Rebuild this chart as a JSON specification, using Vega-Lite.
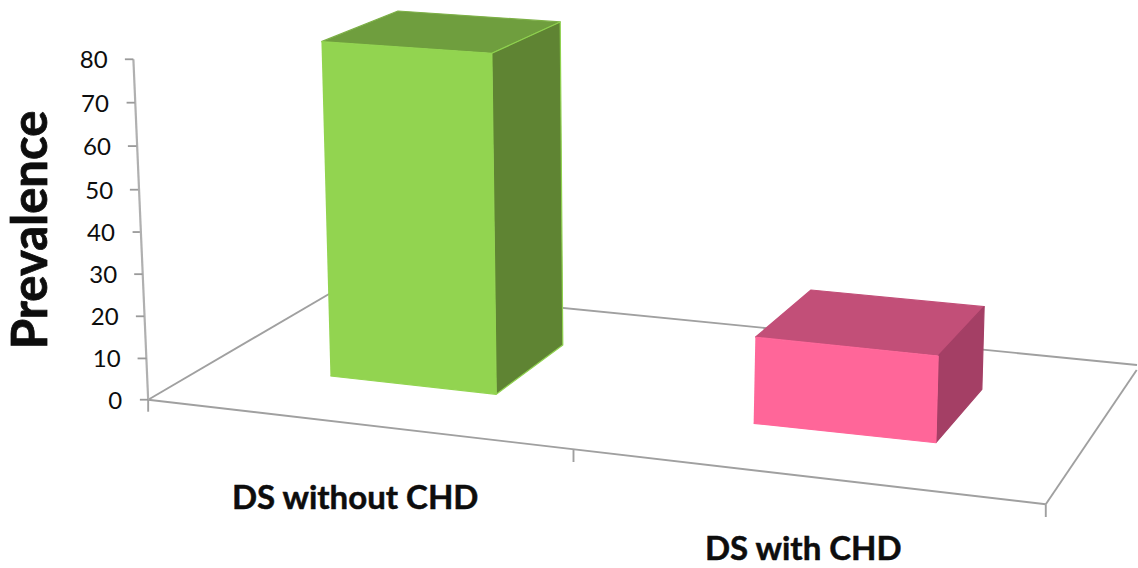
{
  "$schema": "https://vega.github.io/schema/vega-lite/v6.json",
  "width": 1138,
  "height": 568,
  "padding": 0,
  "autosize": {"type": "fit", "contains": "padding"},
  "background": "white",
  "view": {"stroke": null},
  "datasets": {
    "faces": [
      {"category": "DS without CHD", "face": "without top", "order": 0, "x": 321.7, "y": 84.14},
      {"category": "DS without CHD", "face": "without top", "order": 1, "x": 398.3, "y": 91.35},
      {"category": "DS without CHD", "face": "without top", "order": 2, "x": 560.7, "y": 88.77},
      {"category": "DS without CHD", "face": "without top", "order": 3, "x": 492.3, "y": 81.41},
      {"category": "DS without CHD", "face": "without side", "order": 0, "x": 492.3, "y": 81.41},
      {"category": "DS without CHD", "face": "without side", "order": 1, "x": 560.7, "y": 88.77},
      {"category": "DS without CHD", "face": "without side", "order": 2, "x": 563.3, "y": 12.86},
      {"category": "DS without CHD", "face": "without side", "order": 3, "x": 496.7, "y": 1.27},
      {"category": "DS without CHD", "face": "without front", "order": 0, "x": 321.7, "y": 84.14},
      {"category": "DS without CHD", "face": "without front", "order": 1, "x": 492.3, "y": 81.41},
      {"category": "DS without CHD", "face": "without front", "order": 2, "x": 496.7, "y": 1.27},
      {"category": "DS without CHD", "face": "without front", "order": 3, "x": 330.7, "y": 5.57},
      {"category": "DS with CHD", "face": "with top", "order": 0, "x": 756, "y": 14.67},
      {"category": "DS with CHD", "face": "with top", "order": 1, "x": 811.7, "y": 25.78},
      {"category": "DS with CHD", "face": "with top", "order": 2, "x": 985, "y": 21.86},
      {"category": "DS with CHD", "face": "with top", "order": 3, "x": 939, "y": 10.27},
      {"category": "DS with CHD", "face": "with side", "order": 0, "x": 939, "y": 10.27},
      {"category": "DS with CHD", "face": "with side", "order": 1, "x": 985, "y": 21.86},
      {"category": "DS with CHD", "face": "with side", "order": 2, "x": 982.7, "y": 2.44},
      {"category": "DS with CHD", "face": "with side", "order": 3, "x": 936.7, "y": -10.11},
      {"category": "DS with CHD", "face": "with front", "order": 0, "x": 756, "y": 14.67},
      {"category": "DS with CHD", "face": "with front", "order": 1, "x": 939, "y": 10.27},
      {"category": "DS with CHD", "face": "with front", "order": 2, "x": 936.7, "y": -10.11},
      {"category": "DS with CHD", "face": "with front", "order": 3, "x": 754.3, "y": -5.55}
    ],
    "floor": [
      {"edge": "front", "x": 148.3, "y": 0, "xEnd": 1046.7, "yEnd": -24.58},
      {"edge": "left", "x": 148.3, "y": 0, "xEnd": 343, "yEnd": 26.72},
      {"edge": "back", "x": 343, "y": 26.72, "xEnd": 1138, "yEnd": 8.16},
      {"edge": "right", "x": 1046.7, "y": -24.58, "xEnd": 1137.7, "yEnd": 6.98},
      {"edge": "tick start", "x": 148.3, "y": 0, "xEnd": 148.3, "yEnd": -2.82},
      {"edge": "tick middle", "x": 574, "y": -11.77, "xEnd": 574, "yEnd": -14.64},
      {"edge": "tick end", "x": 1046.7, "y": -24.58, "xEnd": 1046.7, "yEnd": -27.57}
    ],
    "ticks": [
      {"value": 80, "x": 125, "xEnd": 133.5, "y": 80, "labelX": 107.7},
      {"value": 70, "x": 126.7, "xEnd": 135, "y": 69.8, "labelX": 109},
      {"value": 60, "x": 128, "xEnd": 136.7, "y": 59.6, "labelX": 111},
      {"value": 50, "x": 130, "xEnd": 138.3, "y": 49.35, "labelX": 113.3},
      {"value": 40, "x": 132.7, "xEnd": 140, "y": 39.4, "labelX": 115},
      {"value": 30, "x": 134.3, "xEnd": 142.7, "y": 29.5, "labelX": 117.3},
      {"value": 20, "x": 136, "xEnd": 144.3, "y": 19.6, "labelX": 118.7},
      {"value": 10, "x": 137.7, "xEnd": 146.7, "y": 9.7, "labelX": 120.7},
      {"value": 0, "x": 140, "xEnd": 148.3, "y": 0, "labelX": 122.3}
    ],
    "axisLine": [
      {"x": 133.5, "y": 80, "xEnd": 148.3, "yEnd": 0}
    ],
    "categories": [
      {"category": "DS without CHD", "x": 355.5, "y": -23.3},
      {"category": "DS with CHD", "x": 804, "y": -35.3}
    ],
    "title": [
      {"title": "Prevalence", "x": 32.5, "y": 39.9}
    ]
  },
  "layer": [
    {
      "data": {"name": "floor"},
      "mark": {"type": "rule", "stroke": "#a0a0a0", "strokeWidth": 1.9},
      "encoding": {
        "x": {"field": "x", "type": "quantitative", "scale": {"domain": [0, 1138], "nice": false, "zero": false}, "axis": null},
        "y": {"field": "y", "type": "quantitative", "scale": {"domain": [-39.55, 93.93], "nice": false, "zero": false}, "axis": null},
        "x2": {"field": "xEnd"},
        "y2": {"field": "yEnd"}
      }
    },
    {
      "data": {"name": "axisLine"},
      "mark": {"type": "rule", "stroke": "#b0b0b0", "strokeWidth": 2.2},
      "encoding": {
        "x": {"field": "x", "type": "quantitative", "axis": null},
        "y": {"field": "y", "type": "quantitative", "axis": null},
        "x2": {"field": "xEnd"},
        "y2": {"field": "yEnd"}
      }
    },
    {
      "data": {"name": "ticks"},
      "mark": {"type": "rule", "stroke": "#9a9a9a", "strokeWidth": 1.8},
      "encoding": {
        "x": {"field": "x", "type": "quantitative", "axis": null},
        "x2": {"field": "xEnd"},
        "y": {"field": "y", "type": "quantitative", "axis": null}
      }
    },
    {
      "data": {"name": "ticks"},
      "mark": {"type": "text", "font": "Lato", "fontSize": 24, "align": "right", "baseline": "middle", "dy": 2, "color": "#0d0d0d"},
      "encoding": {
        "x": {"field": "labelX", "type": "quantitative", "axis": null},
        "y": {"field": "y", "type": "quantitative", "axis": null},
        "text": {"field": "value", "type": "nominal"}
      }
    },
    {
      "data": {"name": "faces"},
      "mark": {"type": "line", "strokeWidth": 1.2, "strokeJoin": "round"},
      "encoding": {
        "x": {"field": "x", "type": "quantitative", "axis": null},
        "y": {"field": "y", "type": "quantitative", "axis": null},
        "order": {"field": "order", "type": "ordinal"},
        "detail": {"field": "face", "type": "nominal"},
        "fill": {
          "field": "face",
          "type": "nominal",
          "legend": null,
          "scale": {
            "domain": ["without top", "without side", "without front", "with top", "with side", "with front"],
            "range": ["#6f9e3e", "#5f8433", "#92d450", "#c24f78", "#a43f65", "#ff6699"]
          }
        },
        "stroke": {
          "field": "face",
          "type": "nominal",
          "legend": null,
          "scale": {
            "domain": ["without top", "without side", "without front", "with top", "with side", "with front"],
            "range": ["#7db047", "#8fd24f", "#92d450", "#c24f78", "#a43f65", "#ff6699"]
          }
        }
      }
    },
    {
      "data": {"name": "categories"},
      "mark": {"type": "text", "font": "Lato", "fontWeight": "bold", "fontSize": 33, "align": "center", "baseline": "middle", "color": "#0d0d0d", "stroke": "#0d0d0d", "strokeWidth": 0.5},
      "encoding": {
        "x": {"field": "x", "type": "quantitative", "axis": null},
        "y": {"field": "y", "type": "quantitative", "axis": null},
        "text": {"field": "category", "type": "nominal"}
      }
    },
    {
      "data": {"name": "title"},
      "mark": {"type": "text", "font": "Lato", "fontWeight": "bold", "fontSize": 49, "angle": 270, "align": "center", "baseline": "middle", "color": "#0d0d0d", "stroke": "#0d0d0d", "strokeWidth": 0.8},
      "encoding": {
        "x": {"field": "x", "type": "quantitative", "axis": null},
        "y": {"field": "y", "type": "quantitative", "axis": null},
        "text": {"field": "title", "type": "nominal"}
      }
    }
  ]
}
